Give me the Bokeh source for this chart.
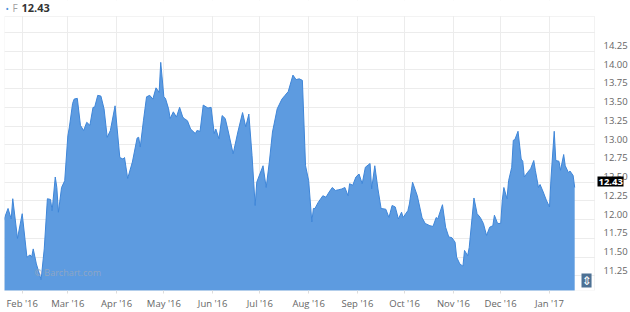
from datetime import datetime
import pandas as pd
from bokeh.plotting import figure
from bokeh.models import (Range1d, LinearAxis, FixedTicker,
                          DatetimeTickFormatter, PrintfTickFormatter,
                          ColumnDataSource, Label, BoxAnnotation)
from bokeh.embed import file_html
from bokeh.resources import INLINE

symbol = "F"
last_price = 12.43

dates = [
    "2016-01-20", "2016-01-23", "2016-01-25", "2016-01-26", "2016-01-29",
    "2016-02-01", "2016-02-04", "2016-02-06", "2016-02-07", "2016-02-08",
    "2016-02-10", "2016-02-11", "2016-02-13", "2016-02-15", "2016-02-17",
    "2016-02-19", "2016-02-20", "2016-02-22", "2016-02-23", "2016-02-24",
    "2016-02-26", "2016-02-28", "2016-03-01", "2016-03-02", "2016-03-04",
    "2016-03-05", "2016-03-07", "2016-03-09", "2016-03-11", "2016-03-13",
    "2016-03-15", "2016-03-17", "2016-03-18", "2016-03-20", "2016-03-22",
    "2016-03-24", "2016-03-26", "2016-03-28", "2016-03-31", "2016-04-03",
    "2016-04-05", "2016-04-06", "2016-04-08", "2016-04-11", "2016-04-14",
    "2016-04-15", "2016-04-16", "2016-04-18", "2016-04-20", "2016-04-22",
    "2016-04-24", "2016-04-26", "2016-04-28", "2016-04-29", "2016-05-01",
    "2016-05-02", "2016-05-04", "2016-05-05", "2016-05-07", "2016-05-09",
    "2016-05-11", "2016-05-13", "2016-05-14", "2016-05-16", "2016-05-18",
    "2016-05-21", "2016-05-22", "2016-05-24", "2016-05-26", "2016-05-29",
    "2016-05-31", "2016-06-02", "2016-06-03", "2016-06-05", "2016-06-07",
    "2016-06-09", "2016-06-11", "2016-06-14", "2016-06-17", "2016-06-20",
    "2016-06-22", "2016-06-24", "2016-06-26", "2016-06-28", "2016-06-29",
    "2016-07-01", "2016-07-03", "2016-07-05", "2016-07-07", "2016-07-09",
    "2016-07-12", "2016-07-15", "2016-07-17", "2016-07-19", "2016-07-22",
    "2016-07-24", "2016-07-26", "2016-07-28", "2016-07-30", "2016-08-01",
    "2016-08-03", "2016-08-04", "2016-08-05", "2016-08-07", "2016-08-10",
    "2016-08-12", "2016-08-14", "2016-08-16", "2016-08-18", "2016-08-20",
    "2016-08-22", "2016-08-24", "2016-08-26", "2016-08-27", "2016-08-29",
    "2016-08-31", "2016-09-02", "2016-09-04", "2016-09-06", "2016-09-09",
    "2016-09-10", "2016-09-12", "2016-09-14", "2016-09-16", "2016-09-19",
    "2016-09-21", "2016-09-23", "2016-09-25", "2016-09-27", "2016-09-29",
    "2016-09-30", "2016-10-03", "2016-10-04", "2016-10-06", "2016-10-09",
    "2016-10-12", "2016-10-14", "2016-10-17", "2016-10-19", "2016-10-21",
    "2016-10-22", "2016-10-25", "2016-10-27", "2016-10-29", "2016-10-31",
    "2016-11-02", "2016-11-03", "2016-11-05", "2016-11-07", "2016-11-08",
    "2016-11-10", "2016-11-11", "2016-11-14", "2016-11-16", "2016-11-18",
    "2016-11-20", "2016-11-22", "2016-11-24", "2016-11-26", "2016-11-27",
    "2016-11-29", "2016-12-01", "2016-12-02", "2016-12-03", "2016-12-05",
    "2016-12-06", "2016-12-08", "2016-12-09", "2016-12-10", "2016-12-12",
    "2016-12-14", "2016-12-15", "2016-12-16", "2016-12-18", "2016-12-20",
    "2016-12-22", "2016-12-23", "2016-12-25", "2016-12-26", "2016-12-28",
    "2016-12-30", "2017-01-01", "2017-01-02", "2017-01-04", "2017-01-05",
    "2017-01-07", "2017-01-08", "2017-01-10", "2017-01-11", "2017-01-13",
    "2017-01-14", "2017-01-16", "2017-01-17",
]

prices = [
    11.98, 12.15, 12.01, 12.28, 11.75,
    12.08, 11.50, 11.53, 11.50, 11.61,
    11.41, 11.34, 11.20, 11.61, 12.28,
    12.27, 12.12, 12.57, 12.43, 12.10,
    12.43, 12.52, 13.12, 13.24, 13.55,
    13.61, 13.62, 13.26, 13.19, 13.30,
    13.26, 13.50, 13.50, 13.66, 13.65,
    13.48, 13.10, 13.19, 13.52, 12.83,
    12.81, 12.83, 12.55, 12.77, 13.09,
    13.10, 12.97, 13.32, 13.64, 13.66,
    13.61, 13.76, 13.70, 14.10, 13.64,
    13.62, 13.48, 13.35, 13.44, 13.37,
    13.50, 13.37, 13.35, 13.32, 13.21,
    13.15, 13.19, 13.18, 13.53, 13.49,
    13.50, 13.15, 13.21, 13.08, 13.39,
    13.35, 13.17, 12.88, 13.17, 13.43,
    13.24, 13.41, 12.86, 12.19, 12.50,
    12.61, 12.72, 12.43, 12.77, 13.17,
    13.48, 13.61, 13.66, 13.71, 13.93,
    13.87, 13.88, 13.86, 12.72, 12.52,
    11.97, 12.15, 12.15, 12.23, 12.32,
    12.30, 12.37, 12.43, 12.39, 12.40,
    12.41, 12.43, 12.32, 12.48, 12.46,
    12.57, 12.61, 12.48, 12.70, 12.75,
    12.41, 12.72, 12.41, 12.15, 12.14,
    12.03, 12.19, 12.17, 12.01, 12.10,
    12.03, 12.12, 12.21, 12.50, 12.32,
    12.03, 11.95, 11.92, 11.91, 12.03,
    12.01, 12.20, 11.90, 11.77, 11.76,
    11.70, 11.50, 11.41, 11.38, 11.59,
    11.52, 11.63, 12.29, 12.08, 12.03,
    11.95, 11.79, 11.90, 11.92, 12.06,
    11.95, 11.95, 12.26, 12.43, 12.28,
    12.52, 12.70, 13.06, 13.07, 13.18,
    12.81, 12.78, 12.57, 12.63, 12.68,
    12.79, 12.66, 12.43, 12.47, 12.37,
    12.26, 12.17, 12.57, 13.18, 12.79,
    12.78, 12.66, 12.87, 12.72, 12.63,
    12.65, 12.59, 12.43,
]

x_tick_dates = ["2016-02-01", "2016-03-01", "2016-04-01", "2016-05-01",
                "2016-06-01", "2016-07-01", "2016-08-01", "2016-09-01",
                "2016-10-01", "2016-11-01", "2016-12-01", "2017-01-01"]
y_ticks = [11.25, 11.50, 11.75, 12.00, 12.25, 12.50, 12.75,
           13.00, 13.25, 13.50, 13.75, 14.00, 14.25]
grid_ticks = y_ticks + [14.50]

src = ColumnDataSource(dict(date=pd.to_datetime(dates), price=prices))

EPOCH = datetime(1970, 1, 1)


def to_ms(d):
    return (d - EPOCH).total_seconds() * 1000.0


x_ticks_ms = [to_ms(d.to_pydatetime()) for d in pd.to_datetime(x_tick_dates)]

# visible plot box (in data units) and pixel geometry
x0 = datetime(2016, 1, 20, 18)
x1 = datetime(2017, 1, 29, 14)
y0, y1 = 11.055, 14.713
BOX_W, BOX_H = 590.0, 275.0          # size of the drawn plot box in px
RIGHT_PAD, TOP_PAD = 36.0, 16.0      # canvas space right of / above the box
label_shift = 0.075                  # y labels sit slightly above grid lines

x0_ms, x1_ms = to_ms(x0), to_ms(x1)
ms_per_px = (x1_ms - x0_ms) / BOX_W
val_per_px = (y1 - y0) / BOX_H
xr_end = x1_ms + RIGHT_PAD * ms_per_px
yr_end = y1 + TOP_PAD * val_per_px

FONT = "Open Sans"

p = figure(width=630, height=312, x_axis_type="datetime", y_axis_location=None,
           x_range=Range1d(x0_ms, xr_end), y_range=Range1d(y0, yr_end),
           output_backend="svg", toolbar_location=None,
           min_border_left=4, min_border_right=0,
           min_border_top=0, min_border_bottom=21)
p.background_fill_color = "white"
p.border_fill_color = "white"
p.outline_line_color = None

# grid
p.xgrid.grid_line_color = "#ececec"
p.ygrid.grid_line_color = "#ececec"
p.ygrid.ticker = FixedTicker(ticks=grid_ticks)
# keep grid lines inside the plot box
p.add_layout(BoxAnnotation(bottom=y1, fill_color="white", fill_alpha=1.0,
                           line_color=None, level="underlay"))
p.add_layout(BoxAnnotation(left=x1_ms, fill_color="white", fill_alpha=1.0,
                           line_color=None, level="underlay"))

# x axis
xax = p.xaxis[0]
xax.ticker = FixedTicker(ticks=x_ticks_ms)
xax.formatter = DatetimeTickFormatter(days="%b '%y", months="%b '%y",
                                      years="%b '%y")
xax.axis_line_color = None
xax.major_tick_line_color = "#dddddd"
xax.major_tick_in = 0
xax.major_tick_out = 3
xax.minor_tick_line_color = None
xax.major_label_standoff = 3
xax.major_label_text_font = FONT
xax.major_label_text_font_size = "9.5px"
xax.major_label_text_color = "#666666"

# data
p.varea(x="date", y1=y0 - 1, y2="price", source=src,
        fill_color="#5d9be0", fill_alpha=1.0)
p.line(x="date", y="price", source=src, line_color="#3f86d8", line_width=1)

# plot box border
p.add_layout(BoxAnnotation(left=x0_ms, right=x1_ms, bottom=y0, top=y1,
                           fill_alpha=0.0, line_color="#d3d3d3", line_width=1))

# y axis on the right edge of the plot box
p.extra_y_ranges = {"lab": Range1d(y0 - label_shift, yr_end - label_shift)}
yax = LinearAxis(y_range_name="lab", ticker=FixedTicker(ticks=y_ticks),
                 formatter=PrintfTickFormatter(format="%.2f"),
                 fixed_location=x1_ms)
yax.axis_line_color = None
yax.major_tick_line_color = None
yax.minor_tick_line_color = None
yax.major_label_standoff = 3
yax.major_label_text_font = FONT
yax.major_label_text_font_size = "9.5px"
yax.major_label_text_color = "#666666"
p.add_layout(yax, "right")

# last-price marker: a fixed-location axis whose thick tick forms the black box
mk = LinearAxis(y_range_name="lab", ticker=FixedTicker(ticks=[last_price]),
                fixed_location=x1_ms + 3 * ms_per_px,
                major_label_overrides={last_price: f"{last_price:.2f}"})
mk.axis_line_color = None
mk.minor_tick_line_color = None
mk.major_tick_line_color = "black"
mk.major_tick_line_width = 10
mk.major_tick_line_cap = "butt"
mk.major_tick_in = 0
mk.major_tick_out = 26
mk.major_label_standoff = -25
mk.major_label_text_font = FONT
mk.major_label_text_font_size = "9.5px"
mk.major_label_text_font_style = "bold"
mk.major_label_text_color = "white"
p.add_layout(mk, "right")

# header "• F 12.43"
p.add_layout(Label(x=x0_ms, y=y1, x_offset=1, y_offset=8, text="•",
                   text_baseline="middle", text_color="#4a8fdc",
                   text_font=FONT, text_font_size="9px"))
p.add_layout(Label(x=x0_ms, y=y1, x_offset=8, y_offset=8, text=symbol,
                   text_baseline="middle", text_color="#a0a0a0",
                   text_font=FONT, text_font_size="10px"))
p.add_layout(Label(x=x0_ms, y=y1, x_offset=17, y_offset=8,
                   text=f"{last_price:.2f}", text_baseline="middle",
                   text_color="#333333", text_font=FONT,
                   text_font_size="11px", text_font_style="bold"))

# watermark
p.add_layout(Label(x=x0_ms, y=y0, x_offset=30, y_offset=18, text="© Barchart.com",
                   text_baseline="middle", text_color="#8ea6c4",
                   text_font=FONT, text_font_size="9px"))

# scroll button
p.add_layout(Label(x=x1_ms, y=y0, x_offset=-13, y_offset=3, text="⇕",
                   text_baseline="bottom", text_color="white",
                   text_font="DejaVu Sans", text_font_size="12px",
                   background_fill_color="#4d7194"))

open("out.html", "w").write(file_html(p, INLINE))
